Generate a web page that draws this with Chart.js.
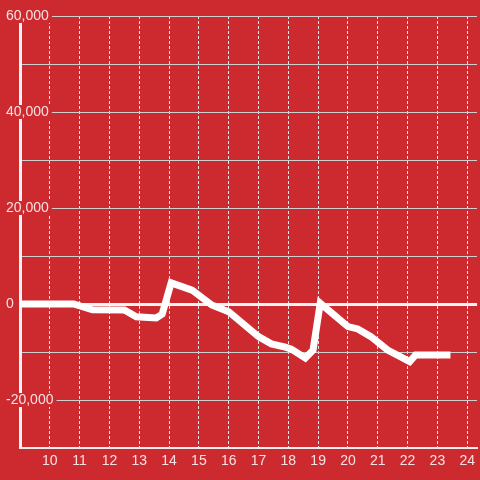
<!DOCTYPE html>
<html>
<head>
    <meta charset="UTF-8" />
    <title>Line chart</title>
    <style>
        body { margin: 0; background-color: #cc2a2f; }
        canvas#chartId { display: block; background-color: #cc2a2f; }
    </style>
</head>
<body>
    <canvas id="chartId" width="480" height="480"></canvas>
    <script src="https://cdn.jsdelivr.net/npm/chart.js@4/dist/chart.umd.min.js"></script>
    <script>
        // values
        var xValues = [9, 10.8, 11.43, 12.5, 12.9, 13.57, 13.77, 14.07, 14.77, 15.43, 16, 17, 17.43, 17.9, 18.1,
            18.57, 18.83, 19.07, 20, 20.33, 20.77, 21.33, 21.77, 22.07, 22.27, 23.32];
        var yValues = [0, 0, -1200, -1250, -2650, -2900, -2100, 4400, 2900, -200, -1600, -6800, -8300, -9000, -9400,
            -11250, -9600, 150, -4700, -5200, -6800, -9600, -11000, -12000, -10600, -10600];
        var xTicks = [10, 11, 12, 13, 14, 15, 16, 17, 18, 19, 20, 21, 22, 23, 24];
        var yTickLabels = [-20000, 0, 20000, 40000, 60000];

        var points = xValues.map(function (x, i) { return { x: x, y: yValues[i] }; });
        var labelColor = 'rgba(255,255,255,0.86)';

        var chrt = document.getElementById("chartId").getContext("2d");
        var chartId = new Chart(chrt, {
            type: 'line',
            data: {
                datasets: [{
                    data: points,
                    borderColor: '#ffffff',
                    borderWidth: 7,
                    borderCapStyle: 'square',
                    borderJoinStyle: 'miter',
                    pointRadius: 0,
                    tension: 0,
                    fill: false
                }]
            },
            options: {
                responsive: false,
                devicePixelRatio: 1,
                animation: false,
                layout: { padding: { top: 16, left: 0, right: 0, bottom: 0 } },
                plugins: {
                    legend: { display: false },
                    tooltip: { enabled: false }
                },
                scales: {
                    x: {
                        type: 'linear',
                        min: 9,
                        max: 24.33,
                        afterFit: function (scale) { scale.height = 32; },
                        ticks: {
                            stepSize: 1,
                            includeBounds: false,
                            padding: 5,
                            color: labelColor,
                            font: { family: 'Liberation Sans', size: 14 },
                            callback: function (v) { return xTicks.indexOf(v) >= 0 ? String(v) : ''; }
                        },
                        grid: {
                            drawTicks: false,
                            color: function (ctx) {
                                return ctx.tick && xTicks.indexOf(ctx.tick.value) >= 0 ? '#e6e6e6' : 'rgba(0,0,0,0)';
                            },
                            lineWidth: 1
                        },
                        border: { color: '#eeeeee', width: 2, dash: [3, 2] }
                    },
                    y: {
                        min: -30000,
                        max: 60000,
                        afterFit: function (scale) { scale.width = 20; },
                        ticks: {
                            stepSize: 10000,
                            mirror: true,
                            padding: -14,
                            color: labelColor,
                            font: { family: 'Liberation Sans', size: 14, lineHeight: 1 },
                            showLabelBackdrop: true,
                            backdropColor: '#cc2a2f',
                            backdropPadding: { top: 0, bottom: 0, left: 1, right: 3 },
                            callback: function (v) {
                                return yTickLabels.indexOf(v) >= 0 ? v.toLocaleString('en-US') : '';
                            }
                        },
                        grid: {
                            drawTicks: false,
                            color: function (ctx) {
                                return ctx.tick && ctx.tick.value === 0 ? '#f4f4f4' : '#cfcfcf';
                            },
                            lineWidth: function (ctx) {
                                return ctx.tick && ctx.tick.value === 0 ? 3 : 1;
                            }
                        },
                        border: { color: '#f4f4f4', width: 3 }
                    }
                }
            }
        });
    </script>
</body>
</html>
